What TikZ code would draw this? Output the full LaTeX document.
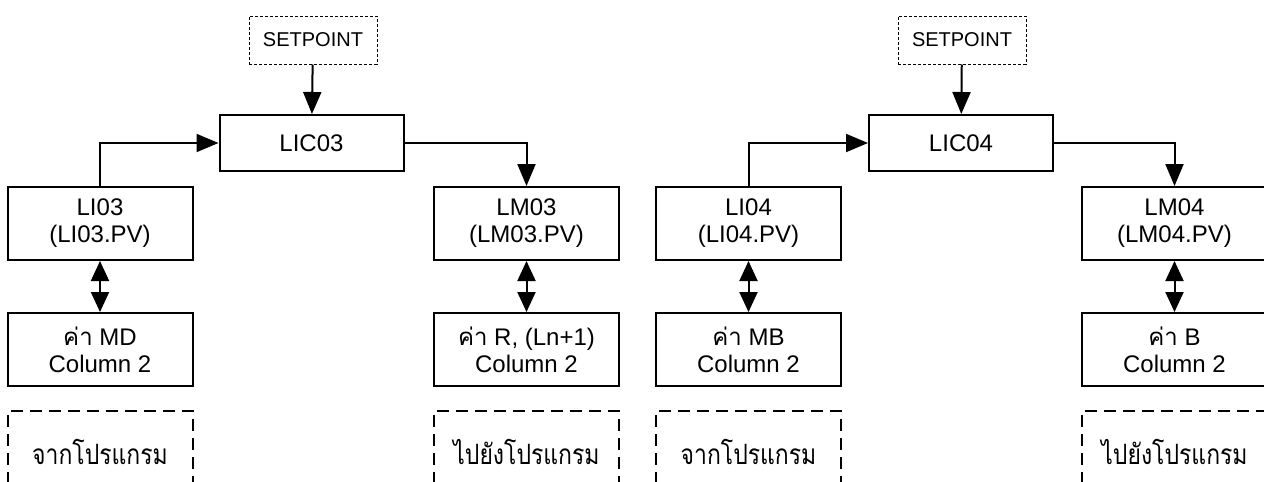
\documentclass[tikz,border=0pt]{standalone}
\usepackage{fontspec}
\setmainfont{Liberation Sans}
\newfontfamily\thaifont[Script=Thai]{Loma}
\newfontfamily\thaiprog[Script=Thai, FakeStretch=0.82]{Loma}
\usetikzlibrary{arrows.meta, positioning}

\begin{document}
\begin{tikzpicture}[
          x=0.5pt, y=-0.5pt,
          every node/.style={font=\fontsize{12}{13.5}\selectfont, align=center, inner sep=0pt},
          block/.style={draw, line width=1pt, minimum width=92.5pt, minimum height=36.5pt},
          ctrl/.style={draw, line width=1pt, minimum width=92pt, minimum height=28pt},
          spbox/.style={draw, line width=0.5pt, dash pattern=on 1.5pt off 1pt, minimum width=64pt, minimum height=24pt, font=\fontsize{10}{12}\selectfont},
          progbox/.style={draw, line width=1pt, dash pattern=on 6pt off 3.5pt, minimum width=92.5pt, minimum height=41pt, font=\thaiprog\fontsize{14}{16}\selectfont},
          flow/.style={-{Triangle[length=11pt 0 0, width=9pt 0 0]}, line width=1pt},
          link/.style={{Triangle[length=10pt 0 0, width=9pt 0 0]}-{Triangle[length=10pt 0 0, width=9pt 0 0]}, line width=1pt}
        ]
        \useasboundingbox (0,0) rectangle (1264,482);
        % loop 03
        \node [spbox] (sp03) at (313,40) {SETPOINT};
        \node [ctrl] (lic03) at (311.5,143) {LIC03};
        \node [block] (li03) at (100,223.5) {LI03\\(LI03.PV)};
        \node [block] (lm03) at (526.5,223.5) {LM03\\(LM03.PV)};
        \node [block] (md03) at (100,349.5) {{\thaifont ค่า} MD\\Column 2};
        \node [block] (r03) at (526.5,349.5) {{\thaifont ค่า} R, (Ln+1)\\Column 2};
        \node [progbox] (from03) at (100,452) {จากโปรแกรม};
        \node [progbox] (to03) at (526.5,452) {ไปยังโปรแกรม};
        % loop 04
        \node [spbox] (sp04) at (962,40) {SETPOINT};
        \node [ctrl] (lic04) at (961,143) {LIC04};
        \node [block] (li04) at (748.5,223.5) {LI04\\(LI04.PV)};
        \node [block] (lm04) at (1174.5,223.5) {LM04\\(LM04.PV)};
        \node [block] (mb04) at (748.5,349.5) {{\thaifont ค่า} MB\\Column 2};
        \node [block] (b04) at (1174.5,349.5) {{\thaifont ค่า} B\\Column 2};
        \node [progbox] (from04) at (748.5,452) {จากโปรแกรม};
        \node [progbox] (to04) at (1174.5,452) {ไปยังโปรแกรม};

        \draw [flow] (sp03) -- (lic03);
        \draw [flow] (li03.north) |- (lic03.west);
        \draw [flow] (lic03.east) -| (lm03.north);
        \draw [link] (li03) -- (md03);
        \draw [link] (lm03) -- (r03);

        \draw [flow] (sp04) -- (lic04);
        \draw [flow] (li04.north) |- (lic04.west);
        \draw [flow] (lic04.east) -| (lm04.north);
        \draw [link] (li04) -- (mb04);
        \draw [link] (lm04) -- (b04);
\end{tikzpicture}
\end{document}
